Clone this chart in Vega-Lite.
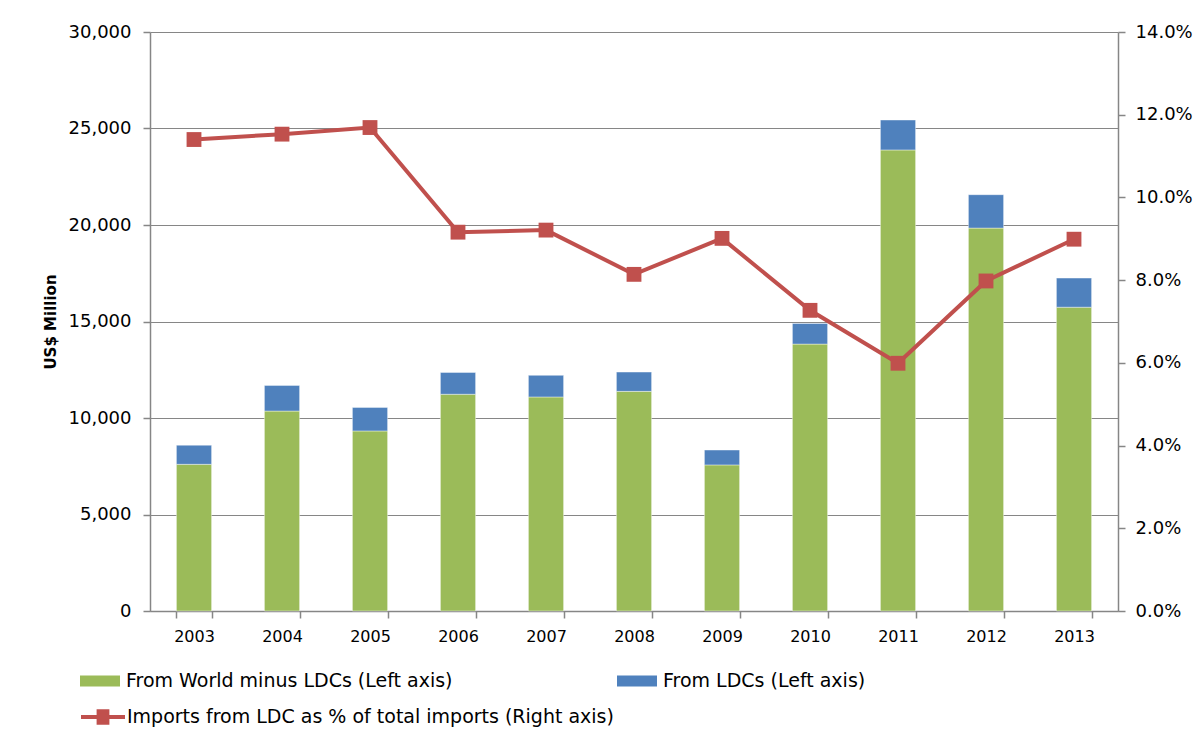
{
  "$schema": "https://vega.github.io/schema/vega-lite/v6.json",
  "width": 968,
  "height": 579,
  "autosize": {"type": "none"},
  "padding": {"left": 150, "top": 32, "right": 80, "bottom": 125},
  "background": "white",
  "config": {
    "font": "DejaVu Sans",
    "view": {"stroke": null},
    "axis": {
      "domainColor": "#868686",
      "domainWidth": 1.5,
      "tickColor": "#868686",
      "tickWidth": 1.5,
      "gridColor": "#868686",
      "gridWidth": 1,
      "labelColor": "#000000",
      "labelFont": "DejaVu Sans",
      "titleColor": "#000000"
    },
    "legend": {
      "labelFont": "DejaVu Sans",
      "labelFontSize": 19,
      "labelColor": "#000000",
      "labelLimit": 0,
      "padding": 0,
      "titlePadding": 0
    }
  },
  "data": {
    "values": [
      {"year": "2003", "world": 7600, "ldcs": 990, "pct": 0.1140},
      {"year": "2004", "world": 10360, "ldcs": 1330, "pct": 0.1153},
      {"year": "2005", "world": 9330, "ldcs": 1220, "pct": 0.1169},
      {"year": "2006", "world": 11230, "ldcs": 1130, "pct": 0.0916},
      {"year": "2007", "world": 11090, "ldcs": 1120, "pct": 0.0921},
      {"year": "2008", "world": 11380, "ldcs": 1000, "pct": 0.0814},
      {"year": "2009", "world": 7570, "ldcs": 770, "pct": 0.0901},
      {"year": "2010", "world": 13830, "ldcs": 1070, "pct": 0.0727},
      {"year": "2011", "world": 23890, "ldcs": 1550, "pct": 0.0599},
      {"year": "2012", "world": 19840, "ldcs": 1730, "pct": 0.0798},
      {"year": "2013", "world": 15740, "ldcs": 1510, "pct": 0.0899}
    ]
  },
  "encoding": {
    "x": {
      "field": "year",
      "type": "ordinal",
      "scale": {"paddingInner": 0.6, "paddingOuter": 0.3},
      "axis": {
        "title": null,
        "labelAngle": 0,
        "labelFontSize": 16,
        "labelPadding": 10,
        "tickSize": 7,
        "tickBand": "extent",
        "grid": false
      }
    }
  },
  "layer": [
    {
      "transform": [{"fold": ["world", "ldcs"], "as": ["series", "value"]}],
      "mark": {"type": "bar", "stroke": "#ffffff", "strokeWidth": 0.6, "strokeOpacity": 0.7},
      "encoding": {
        "y": {
          "field": "value",
          "type": "quantitative",
          "stack": "zero",
          "scale": {"domain": [0, 30000], "nice": false},
          "axis": {
            "orient": "left",
            "values": [0, 5000, 10000, 15000, 20000, 25000, 30000],
            "format": ",.0f",
            "grid": true,
            "tickSize": 7,
            "labelFontSize": 18,
            "labelPadding": 12,
            "title": "US$ Million",
            "titleFontSize": 15,
            "titleFontWeight": "bold",
            "titlePadding": 10
          }
        },
        "color": {
          "field": "series",
          "type": "nominal",
          "scale": {"domain": ["world", "ldcs"], "range": ["#9BBB59", "#4F81BD"]},
          "legend": {
            "title": null,
            "orient": "none",
            "direction": "horizontal",
            "columns": 2,
            "columnPadding": 164,
            "legendX": -70,
            "legendY": 629,
            "symbolType": "M-1,-0.275H1V0.275H-1Z",
            "symbolSize": 1600,
            "symbolStrokeWidth": 0,
            "labelOffset": 6,
            "labelExpr": "datum.value == 'world' ? 'From World minus LDCs (Left axis)' : 'From LDCs (Left axis)'"
          }
        },
        "order": {"field": "series", "sort": "descending"}
      }
    },
    {
      "encoding": {
        "y": {
          "field": "pct",
          "type": "quantitative",
          "scale": {"domain": [0, 0.14], "nice": false},
          "axis": {
            "orient": "right",
            "values": [0, 0.02, 0.04, 0.06, 0.08, 0.1, 0.12, 0.14],
            "format": ".1%",
            "grid": false,
            "tickSize": 7,
            "labelFontSize": 18,
            "labelPadding": 10,
            "title": null
          }
        }
      },
      "layer": [
        {
          "mark": {"type": "line", "strokeWidth": 4},
          "encoding": {
            "stroke": {
              "datum": "Imports from LDC as % of total imports (Right axis)",
              "type": "nominal",
              "scale": {"range": ["#C0504D"]},
              "legend": {
                "title": null,
                "orient": "none",
                "legendX": -71,
                "legendY": 661,
                "symbolType": "M-1,0H1M-0.2,-0.26H0.2V0.26H-0.2Z",
                "symbolSize": 1936,
                "symbolStrokeWidth": 4,
                "symbolFillColor": "#C0504D",
                "labelOffset": 0,
                "encode": {"symbols": {"update": {"fill": {"value": "#C0504D"}, "stroke": {"value": "#C0504D"}}}}
              }
            }
          }
        },
        {
          "mark": {"type": "point", "shape": "square", "filled": true, "size": 220, "opacity": 1, "color": "#C0504D"},
          "encoding": {}
        }
      ]
    }
  ],
  "resolve": {"scale": {"y": "independent"}}
}
